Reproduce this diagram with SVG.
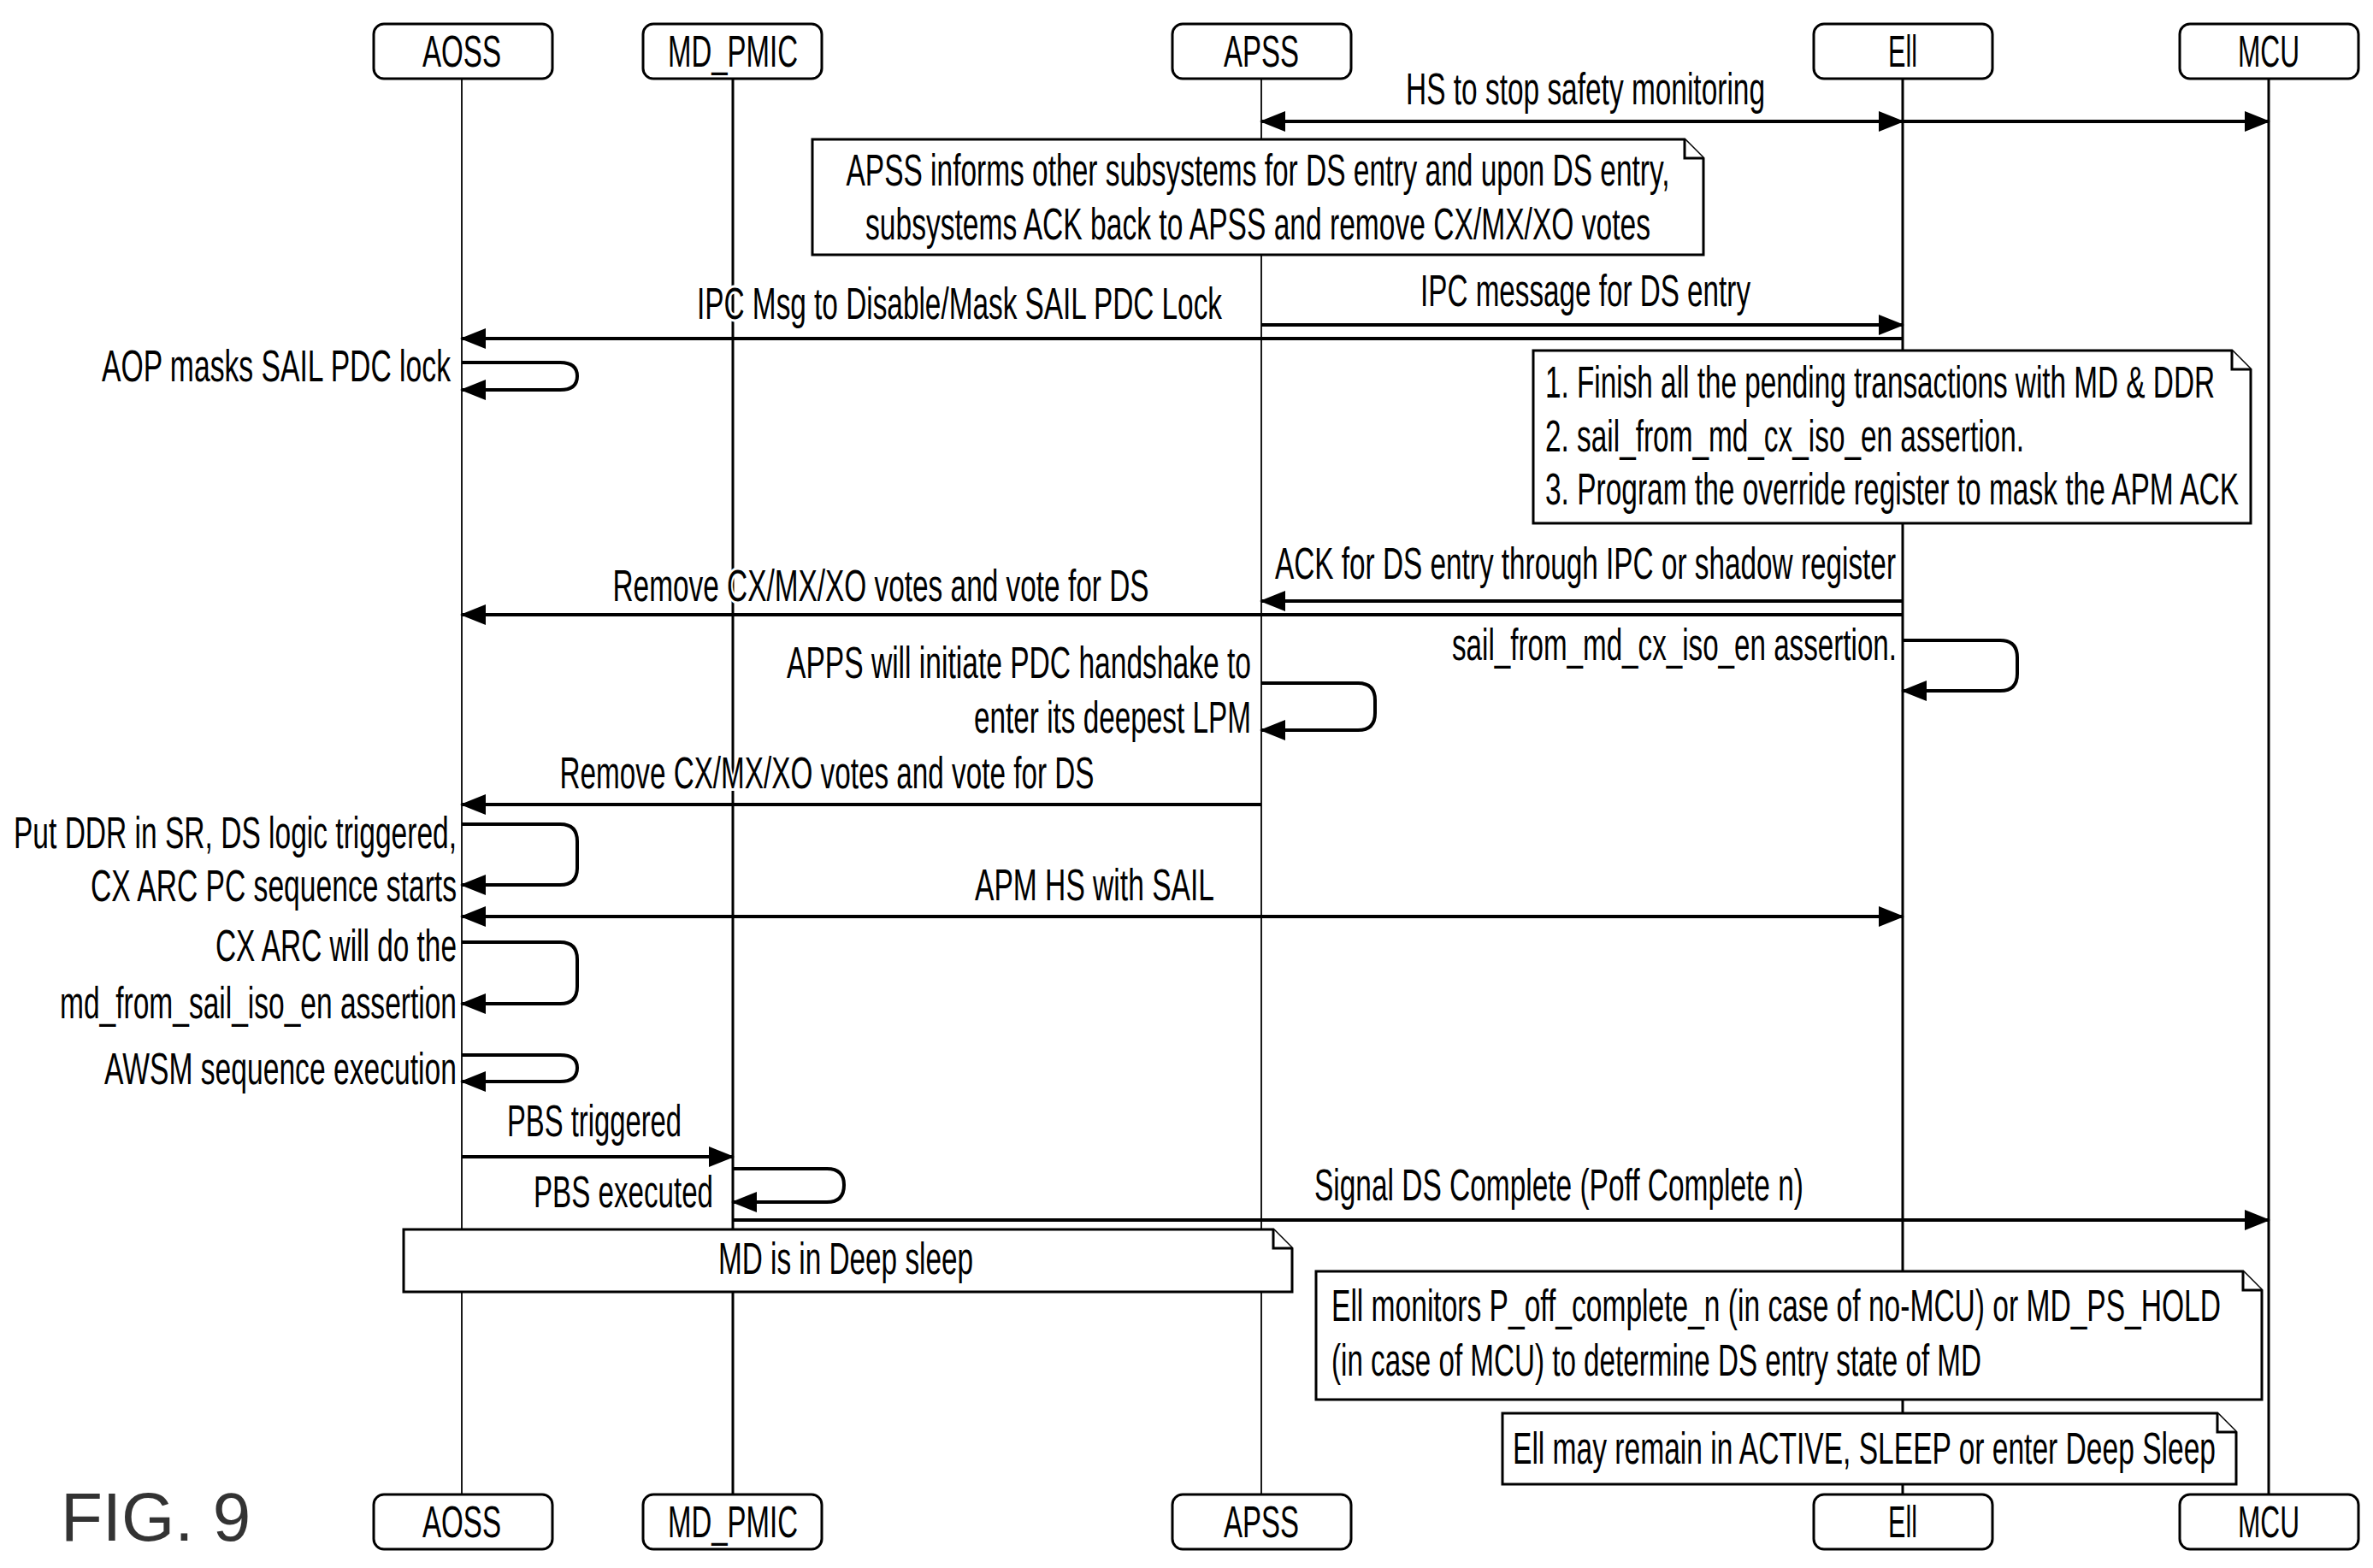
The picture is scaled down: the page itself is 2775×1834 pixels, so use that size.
<svg xmlns="http://www.w3.org/2000/svg" width="2775" height="1834" viewBox="0 0 2775 1834">
<style>
text{font-family:"Liberation Sans Narrow","Liberation Sans",Arial,sans-serif;font-size:51px;fill:#000}
.lbl{stroke:#fff;stroke-width:6px;paint-order:stroke}
.hb{fill:#fff;stroke:#000;stroke-width:3}
.ll{stroke:#000;stroke-width:3;fill:none}
.lt{stroke:#000;stroke-width:1.8;fill:none}
.m{stroke:#000;stroke-width:4;fill:none}
.note{fill:#fff;stroke:#000;stroke-width:3}
.c{text-anchor:middle}
.e{text-anchor:end}
</style>
<defs>
<marker id="ah" markerUnits="userSpaceOnUse" markerWidth="30" markerHeight="24" refX="28" refY="12" orient="auto-start-reverse"><path d="M0,0 L30,12 L0,24 Z" fill="#000"/></marker>
</defs>
<rect width="2775" height="1834" fill="#fff"/>
<g id="lifelines">
<line class="lt" x1="540" y1="92" x2="540" y2="1748"/>
<line class="ll" x1="857" y1="92" x2="857" y2="1748"/>
<line class="lt" x1="1475" y1="92" x2="1475" y2="1748"/>
<line class="ll" x1="2225" y1="92" x2="2225" y2="1748"/>
<line class="ll" x1="2653" y1="92" x2="2653" y2="1748"/>
</g>
<g id="aoss"><rect class="hb" x="437" y="28" width="209" height="64" rx="12"/><text class="c" x="540" y="78" textLength="92" lengthAdjust="spacingAndGlyphs">AOSS</text>
<rect class="hb" x="437" y="1748" width="209" height="64" rx="12"/><text class="c" x="540" y="1798" textLength="92" lengthAdjust="spacingAndGlyphs">AOSS</text></g>
<g id="md_pmic"><rect class="hb" x="752" y="28" width="209" height="64" rx="12"/><text class="c" x="857" y="78" textLength="152" lengthAdjust="spacingAndGlyphs">MD_PMIC</text>
<rect class="hb" x="752" y="1748" width="209" height="64" rx="12"/><text class="c" x="857" y="1798" textLength="152" lengthAdjust="spacingAndGlyphs">MD_PMIC</text></g>
<g id="apss"><rect class="hb" x="1371" y="28" width="209" height="64" rx="12"/><text class="c" x="1475" y="78" textLength="88" lengthAdjust="spacingAndGlyphs">APSS</text>
<rect class="hb" x="1371" y="1748" width="209" height="64" rx="12"/><text class="c" x="1475" y="1798" textLength="88" lengthAdjust="spacingAndGlyphs">APSS</text></g>
<g id="ell"><rect class="hb" x="2121" y="28" width="209" height="64" rx="12"/><text class="c" x="2225" y="78" textLength="34" lengthAdjust="spacingAndGlyphs">Ell</text>
<rect class="hb" x="2121" y="1748" width="209" height="64" rx="12"/><text class="c" x="2225" y="1798" textLength="34" lengthAdjust="spacingAndGlyphs">Ell</text></g>
<g id="mcu"><rect class="hb" x="2549" y="28" width="209" height="64" rx="12"/><text class="c" x="2653" y="78" textLength="72" lengthAdjust="spacingAndGlyphs">MCU</text>
<rect class="hb" x="2549" y="1748" width="209" height="64" rx="12"/><text class="c" x="2653" y="1798" textLength="72" lengthAdjust="spacingAndGlyphs">MCU</text></g>
<g id="connectors">
<line class="m" x1="1475" y1="142" x2="2225" y2="142" marker-start="url(#ah)" marker-end="url(#ah)"/>
<line class="m" x1="2225" y1="142" x2="2653" y2="142" marker-end="url(#ah)"/>
<text class="c lbl" x="1854" y="122" textLength="420" lengthAdjust="spacingAndGlyphs">HS to stop safety monitoring</text>
<line class="m" x1="1475" y1="380" x2="2225" y2="380" marker-end="url(#ah)"/>
<text class="c lbl" x="1854" y="358" textLength="386" lengthAdjust="spacingAndGlyphs">IPC message for DS entry</text>
<line class="m" x1="2225" y1="396" x2="540" y2="396" marker-end="url(#ah)"/>
<text class="c lbl" x="1122" y="373" textLength="614" lengthAdjust="spacingAndGlyphs">IPC Msg to Disable/Mask SAIL PDC Lock</text>
<path class="m" d="M540,424 H655 Q675,424 675,440 Q675,456 655,456 H540" marker-end="url(#ah)"/>
<text class="e" x="527" y="446" textLength="408" lengthAdjust="spacingAndGlyphs">AOP masks SAIL PDC lock</text>
<line class="m" x1="2225" y1="703" x2="1475" y2="703" marker-end="url(#ah)"/>
<text class="c lbl" x="1854" y="677" textLength="726" lengthAdjust="spacingAndGlyphs">ACK for DS entry through IPC or shadow register</text>
<line class="m" x1="2225" y1="719" x2="540" y2="719" marker-end="url(#ah)"/>
<text class="c lbl" x="1030" y="703" textLength="627" lengthAdjust="spacingAndGlyphs">Remove CX/MX/XO votes and vote for DS</text>
<path class="m" d="M2225,749 H2339 Q2359,749 2359,769 V788 Q2359,808 2339,808 H2225" marker-end="url(#ah)"/>
<text class="e" x="2218" y="772" textLength="520" lengthAdjust="spacingAndGlyphs">sail_from_md_cx_iso_en assertion.</text>
<path class="m" d="M1475,799 H1588 Q1608,799 1608,819 V834 Q1608,854 1588,854 H1475" marker-end="url(#ah)"/>
<text class="e" x="1463" y="793" textLength="543" lengthAdjust="spacingAndGlyphs">APPS will initiate PDC handshake to</text>
<text class="e" x="1463" y="857" textLength="324" lengthAdjust="spacingAndGlyphs">enter its deepest LPM</text>
<line class="m" x1="1475" y1="941" x2="540" y2="941" marker-end="url(#ah)"/>
<text class="c lbl" x="967" y="922" textLength="625" lengthAdjust="spacingAndGlyphs">Remove CX/MX/XO votes and vote for DS</text>
<path class="m" d="M540,964 H655 Q675,964 675,984 V1015 Q675,1035 655,1035 H540" marker-end="url(#ah)"/>
<text class="e" x="534" y="992" textLength="518" lengthAdjust="spacingAndGlyphs">Put DDR in SR, DS logic triggered,</text>
<text class="e" x="534" y="1054" textLength="428" lengthAdjust="spacingAndGlyphs">CX ARC PC sequence starts</text>
<line class="m" x1="540" y1="1072" x2="2225" y2="1072" marker-start="url(#ah)" marker-end="url(#ah)"/>
<text class="c lbl" x="1280" y="1053" textLength="280" lengthAdjust="spacingAndGlyphs">APM HS with SAIL</text>
<path class="m" d="M540,1102 H655 Q675,1102 675,1122 V1154 Q675,1174 655,1174 H540" marker-end="url(#ah)"/>
<text class="e" x="534" y="1124" textLength="282" lengthAdjust="spacingAndGlyphs">CX ARC will do the</text>
<text class="e" x="534" y="1191" textLength="464" lengthAdjust="spacingAndGlyphs">md_from_sail_iso_en assertion</text>
<path class="m" d="M540,1234 H655 Q675,1234 675,1249 Q675,1265 655,1265 H540" marker-end="url(#ah)"/>
<text class="e" x="534" y="1268" textLength="412" lengthAdjust="spacingAndGlyphs">AWSM sequence execution</text>
<line class="m" x1="540" y1="1353" x2="857" y2="1353" marker-end="url(#ah)"/>
<text class="c" x="695" y="1329" textLength="204" lengthAdjust="spacingAndGlyphs">PBS triggered</text>
<path class="m" d="M857,1367 H967 Q987,1367 987,1386 Q987,1406 967,1406 H857" marker-end="url(#ah)"/>
<text class="e" x="834" y="1412" textLength="210" lengthAdjust="spacingAndGlyphs">PBS executed</text>
<line class="m" x1="857" y1="1427" x2="2653" y2="1427" marker-end="url(#ah)"/>
<text class="c lbl" x="1823" y="1404" textLength="572" lengthAdjust="spacingAndGlyphs">Signal DS Complete (Poff Complete n)</text>
</g>
<g id="note-apss">
<path class="note" d="M950,163 H1970 L1992,185 V298 H950 Z"/><path class="note" d="M1970,163 V185 H1992" fill="none"/>
<text class="c" x="1471" y="217" textLength="963" lengthAdjust="spacingAndGlyphs">APSS informs other subsystems for DS entry and upon DS entry,</text>
<text class="c" x="1471" y="280" textLength="918" lengthAdjust="spacingAndGlyphs">subsystems ACK back to APSS and remove CX/MX/XO votes</text>
</g>
<g id="note-ell1">
<path class="note" d="M1793,410 H2610 L2632,432 V612 H1793 Z"/><path class="note" d="M2610,410 V432 H2632" fill="none"/>
<text x="1807" y="465" textLength="783" lengthAdjust="spacingAndGlyphs">1. Finish all the pending transactions with MD &amp; DDR</text>
<text x="1807" y="528" textLength="560" lengthAdjust="spacingAndGlyphs">2. sail_from_md_cx_iso_en assertion.</text>
<text x="1807" y="590" textLength="811" lengthAdjust="spacingAndGlyphs">3. Program the override register to mask the APM ACK</text>
</g>
<g id="note-md">
<path class="note" d="M472,1438 H1489 L1511,1460 V1511 H472 Z"/><path class="note" d="M1489,1438 V1460 H1511" fill="none"/>
<text class="c" x="989" y="1490" textLength="298" lengthAdjust="spacingAndGlyphs">MD is in Deep sleep</text>
</g>
<g id="note-ell2">
<path class="note" d="M1539,1487 H2623 L2645,1509 V1637 H1539 Z"/><path class="note" d="M2623,1487 V1509 H2645" fill="none"/>
<text x="1557" y="1545" textLength="1040" lengthAdjust="spacingAndGlyphs">Ell monitors P_off_complete_n (in case of no-MCU) or MD_PS_HOLD</text>
<text x="1557" y="1609" textLength="760" lengthAdjust="spacingAndGlyphs">(in case of MCU) to determine DS entry state of MD</text>
</g>
<g id="note-ell3">
<path class="note" d="M1757,1653 H2593 L2615,1675 V1736 H1757 Z"/><path class="note" d="M2593,1653 V1675 H2615" fill="none"/>
<text x="1769" y="1712" textLength="822" lengthAdjust="spacingAndGlyphs">Ell may remain in ACTIVE, SLEEP or enter Deep Sleep</text>
</g>
<text x="71" y="1802" style="font-family:'Liberation Sans',Arial,sans-serif;font-size:80px;fill:#333">FIG. 9</text>
</svg>
